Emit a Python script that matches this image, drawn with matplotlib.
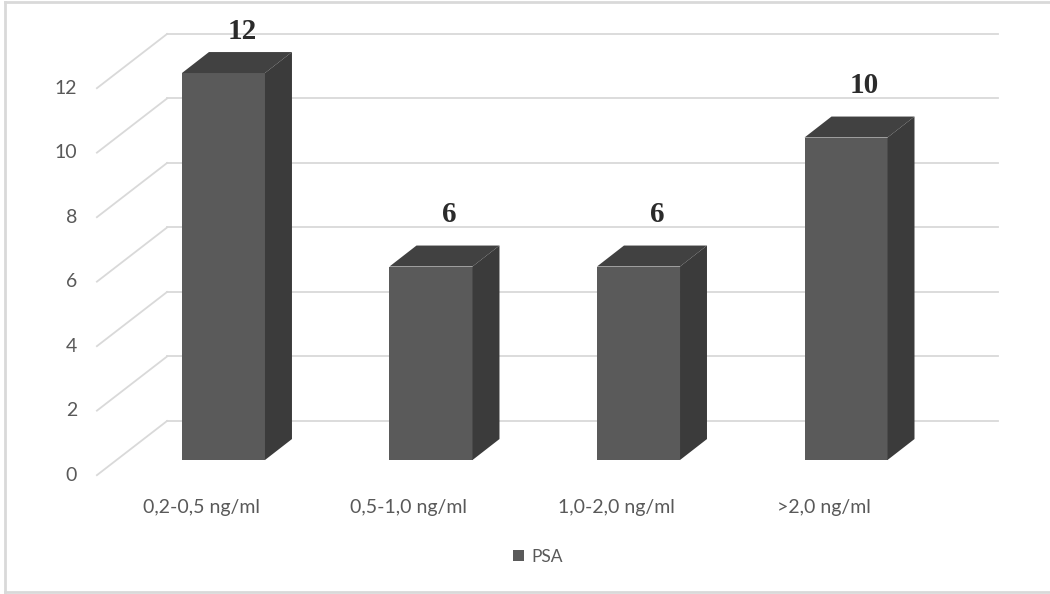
# plot.py
# 3D-look column chart of PSA groups, drawn with plain matplotlib
import matplotlib
matplotlib.use('Agg')
import matplotlib.pyplot as plt
from matplotlib.patches import Polygon, Patch
from matplotlib.lines import Line2D

# Data
categories = ['0,2-0,5 ng/ml', '0,5-1,0 ng/ml', '1,0-2,0 ng/ml', '>2,0 ng/ml']
psa_counts = [12, 6, 6, 10]
y_ticks = [0, 2, 4, 6, 8, 10, 12]
series_name = 'PSA'

# Colours
front_col = '#5a5a5a'
side_col = '#3b3b3b'
top_col = '#414141'
grid_col = '#d9d9d9'
text_col = '#595959'

# Fake 3D geometry (data units)
bar_w = 0.4
depth_dx, depth_dy = 0.13, 0.65        # bar depth
wall_dy = 1.21                          # back wall sits behind the bars
wall_x0, wall_x1 = -0.272, 3.733
floor_x, floor_dy = -0.61, -0.47        # front end of the left-wall lines

fig = plt.figure(figsize=(10.5, 5.94), dpi=100)
ax = fig.add_axes([0, 0, 1, 1])
ax.set_xlim(-1.077, 3.983)
ax.set_ylim(-4.155, 14.264)
ax.axis('off')

# Back wall gridlines + side wall diagonals
for t in y_ticks:
    ax.plot([wall_x0, wall_x1], [t + wall_dy, t + wall_dy], color=grid_col, lw=1.3, zorder=1)
    ax.plot([floor_x, wall_x0], [t + floor_dy, t + wall_dy], color=grid_col, lw=1.3, zorder=1)
    ax.text(floor_x - 0.095, t + floor_dy, str(t), ha='right', va='center',
            fontsize=14, color=text_col, family='Lato')

# Bars: front face via ax.bar, then top and side faces
xs = list(range(len(categories)))
ax.bar(xs, psa_counts, width=bar_w, color=front_col, zorder=3)
for x, v in zip(xs, psa_counts):
    l, r = x - bar_w / 2, x + bar_w / 2
    top = [(l, v), (r, v), (r + depth_dx, v + depth_dy), (l + depth_dx, v + depth_dy)]
    side = [(r, 0), (r, v), (r + depth_dx, v + depth_dy), (r + depth_dx, depth_dy)]
    ax.add_patch(Polygon(top, closed=True, facecolor=top_col, edgecolor='none', zorder=3))
    ax.add_patch(Polygon(side, closed=True, facecolor=side_col, edgecolor='none', zorder=3))
    # value label (clamped near the top like Excel does)
    ax.text(x + 0.09, min(v + 1.6, 13.3), str(v), ha='center', va='center',
            fontsize=21, fontweight='bold', color='#2b2b2b', family='Liberation Serif', zorder=4)

# Category labels
for x, c in zip(xs, categories):
    ax.text(x - 0.107, -1.46, c, ha='center', va='center', fontsize=14,
            color=text_col, family='Lato')

# Legend
handle = Patch(facecolor=front_col, edgecolor='none')
leg = ax.legend([handle], [series_name], loc='center', bbox_to_anchor=(538 / 1050, 1 - 557 / 594),
                frameon=False, handlelength=0.6, handleheight=0.6, handletextpad=0.45,
                prop={'family': 'Lato', 'size': 12.5})
for t in leg.get_texts():
    t.set_color(text_col)

# Chart frame (right edge is cut off in the original)
fx0, fy0, fy1 = 5 / 1050, 1 - 592 / 594, 1 - 2 / 594
for xd, yd in [([fx0, fx0], [fy0, fy1]), ([fx0, 1.0], [fy1, fy1]), ([fx0, 1.0], [fy0, fy0])]:
    fig.add_artist(Line2D(xd, yd, color=grid_col, lw=2, transform=fig.transFigure))

plt.savefig('out.png', dpi=100)
